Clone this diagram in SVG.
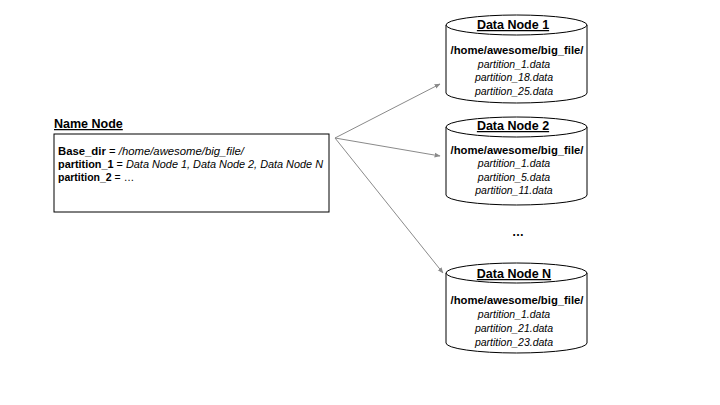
<svg xmlns="http://www.w3.org/2000/svg" width="720" height="405" viewBox="0 0 720 405">
<defs>
<style>
text{font-family:"Liberation Sans",Arial,sans-serif;fill:#000}
.ttl{font-size:12.5px;font-weight:bold;text-decoration:underline}
.b{font-weight:bold}
.i{font-style:italic}
.nm{font-size:10.5px}
.dp{font-size:10.5px;font-weight:bold;text-anchor:middle}
.dl{font-size:10.5px;font-style:italic;text-anchor:middle}
.cyl{fill:#fff;stroke:#000;stroke-width:1}
.conn{stroke:#8a8a8a;stroke-width:1;fill:none;marker-end:url(#ah)}
</style>
<marker id="ah" viewBox="0 0 10 10" refX="9" refY="5" markerWidth="6" markerHeight="6" orient="auto" markerUnits="userSpaceOnUse">
<path d="M0,1 L10,5 L0,9 z" fill="#8a8a8a"/>
</marker>
</defs>
<rect width="720" height="405" fill="#fff"/>
<g id="name-node">
<text class="ttl" x="54" y="128">Name Node</text>
<rect x="54" y="134" width="275" height="78" fill="#fff" stroke="#000" stroke-width="1"/>
<text class="nm" x="58" y="155" textLength="186" lengthAdjust="spacingAndGlyphs"><tspan class="b">Base_dir</tspan> = <tspan class="i">/home/awesome/big_file/</tspan></text>
<text class="nm" x="58" y="168" textLength="265" lengthAdjust="spacingAndGlyphs"><tspan class="b">partition_1</tspan> = <tspan class="i">Data Node 1, Data Node 2, Data Node N</tspan></text>
<text class="nm" x="58" y="181"><tspan class="b">partition_2</tspan> = …</text>
</g>
<g id="connectors">
<line class="conn" x1="335" y1="138" x2="440" y2="84"/>
<line class="conn" x1="335" y1="138" x2="440" y2="156"/>
<line class="conn" x1="335" y1="138" x2="443" y2="273"/>
</g>
<g id="data-node-1">
<path class="cyl" d="M446,25 L446,93 A70.5,10 0 0 0 587,93 L587,25"/>
<ellipse class="cyl" cx="516.5" cy="25" rx="70.5" ry="10"/>
<text class="ttl" x="513" y="29" text-anchor="middle">Data Node 1</text>
<text class="dp" x="517" y="54" textLength="133" lengthAdjust="spacingAndGlyphs">/home/awesome/big_file/</text>
<text class="dl" x="514" y="68">partition_1.data</text>
<text class="dl" x="514" y="81">partition_18.data</text>
<text class="dl" x="514" y="95">partition_25.data</text>
</g>
<g id="data-node-2">
<path class="cyl" d="M446,127 L446,195 A70.5,10 0 0 0 587,195 L587,127"/>
<ellipse class="cyl" cx="516.5" cy="127" rx="70.5" ry="10"/>
<text class="ttl" x="513" y="130" text-anchor="middle">Data Node 2</text>
<text class="dp" x="517" y="154" textLength="133" lengthAdjust="spacingAndGlyphs">/home/awesome/big_file/</text>
<text class="dl" x="514" y="167">partition_1.data</text>
<text class="dl" x="514" y="181">partition_5.data</text>
<text class="dl" x="514" y="194">partition_11.data</text>
</g>
<text x="518" y="236" font-size="12" font-weight="bold" text-anchor="middle">…</text>
<g id="data-node-n">
<path class="cyl" d="M446,273 L446,343 A70.5,10 0 0 0 587,343 L587,273"/>
<ellipse class="cyl" cx="516.5" cy="273" rx="70.5" ry="10"/>
<text class="ttl" x="514" y="278" text-anchor="middle">Data Node N</text>
<text class="dp" x="517" y="304" textLength="133" lengthAdjust="spacingAndGlyphs">/home/awesome/big_file/</text>
<text class="dl" x="514" y="318">partition_1.data</text>
<text class="dl" x="514" y="332">partition_21.data</text>
<text class="dl" x="514" y="346">partition_23.data</text>
</g>
</svg>
